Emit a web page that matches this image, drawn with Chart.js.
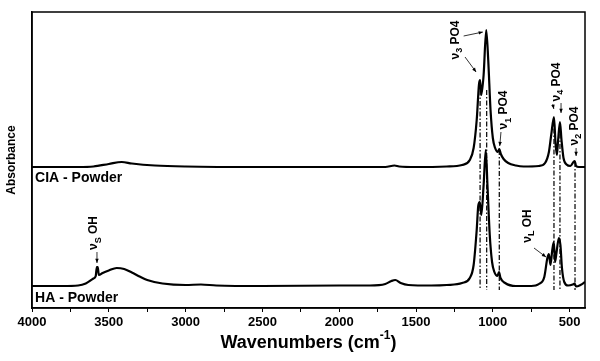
<!DOCTYPE html>
<html>
<head>
<meta charset="utf-8">
<script src="https://cdn.jsdelivr.net/npm/chart.js@4.4.0/dist/chart.umd.min.js"></script>
<style>
  body { margin: 0; background: #fff; }
  #grafico { display: block; }
</style>
</head>
<body>
<canvas id="grafico" width="600" height="361"></canvas>
<script>
const FONTE = '"Liberation Sans", Arial, sans-serif';

// espectro CIA - Powder (número de onda em cm-1, absorbância em unidades arbitrárias)
const ondaCIA = [4000, 3700, 3600, 3500, 3416, 3350, 3200, 3000, 2500, 2000, 1700, 1640, 1610, 1500, 1300,
    1200, 1150, 1125, 1105, 1090, 1083, 1075, 1060, 1043, 1030, 1015, 1000, 985, 968, 958, 948, 930, 900,
    850, 800, 700, 660, 635, 620, 602, 592, 583, 575, 563, 553, 540, 520, 495, 475, 467, 458, 440, 400];
const absCIA = [141, 141, 141.5, 144, 146, 144.5, 142.5, 141.5, 141, 141, 141, 142.5, 141.5, 141, 141.5,
    143, 148, 160, 188, 224, 228, 213, 233, 278, 248, 198, 170, 160, 156, 159, 154, 149, 145,
    142.5, 141.5, 142, 145, 156, 173, 191, 165, 153, 168, 186, 168, 150, 143.5, 142, 146, 147, 142, 141, 141];

// espectro HA - Powder
const ondaHA = [4000, 3800, 3700, 3650, 3600, 3585, 3578, 3572, 3565, 3540, 3500, 3449, 3400, 3350, 3300,
    3250, 3150, 3000, 2900, 2800, 2500, 2000, 1800, 1700, 1660, 1635, 1600, 1550, 1400, 1300, 1200, 1150,
    1125, 1105, 1095, 1085, 1075, 1060, 1046, 1035, 1020, 1005, 990, 970, 960, 950, 920, 850, 750, 700,
    665, 645, 635, 625, 613, 603, 595, 585, 570, 560, 550, 535, 510, 480, 468, 458, 430, 400];
const absHA = [22, 22, 22.5, 24.5, 29.5, 32, 41, 41, 33, 35, 37.5, 40, 39, 35.5, 31.5,
    28, 24.5, 23, 23.5, 22.5, 22, 22.5, 22.5, 24, 27, 28, 25, 23, 22.5, 23, 25, 30,
    43, 78, 102, 106, 93, 123, 158, 123, 73, 46, 36, 32, 36, 30, 25, 22, 22, 24,
    31, 50, 54, 43, 58, 66, 46, 56, 70, 63, 40, 26, 22.5, 23.5, 24.5, 21.5, 23, 26];

// linhas traço-ponto nas bandas
const linhasPico = [1083, 1040, 958, 602, 563, 465];
const topoLinha = [228, 218, 158, 190, 185, 146];
const baseLinha = 18;

const ticksX = [4000, 3750, 3500, 3250, 3000, 2750, 2500, 2250, 2000, 1750, 1500, 1250, 1000, 750, 500];

// rótulos das bandas: [texto, subscrito?], posição em (cm-1, absorbância)
const rotulos = [
    { partes: [['ν', 0], ['3', 1], [' PO4', 0]], x: 1240, y: 268 },
    { partes: [['ν', 0], ['1', 1], [' PO4', 0]], x: 927, y: 198 },
    { partes: [['ν', 0], ['4', 1], [' PO4', 0]], x: 585, y: 226 },
    { partes: [['ν', 0], ['2', 1], [' PO4', 0]], x: 465, y: 182 },
    { partes: [['ν', 0], ['S', 1], [' OH', 0]], x: 3596, y: 75 },
    { partes: [['ν', 0], ['L', 1], [' OH', 0]], x: 771, y: 82 }
];

// setas: [x1, y1, x2, y2]
const setas = [
    [1190, 272, 1065, 276],
    [1181, 251, 1109, 236],
    [947, 176, 955, 162],
    [610, 204, 603, 199],
    [556, 205, 556, 195],
    [458, 160, 458, 152],
    [3577, 56, 3577, 45],
    [732, 60, 654, 51]
];

const nomesAmostras = [
    { texto: 'CIA - Powder', x: 3980, y: 130 },
    { texto: 'HA - Powder', x: 3980, y: 10 }
];

function pontos(xs, ys) {
    return xs.map((x, i) => ({ x: x, y: ys[i] }));
}

function fonte(tam) {
    return 'bold ' + tam + 'px ' + FONTE;
}

function desenharRotulo(ctx, partes, px, py) {
    ctx.save();
    ctx.translate(px, py);
    ctx.rotate(-Math.PI / 2);
    let largura = 0;
    partes.forEach(([t, sub]) => {
        ctx.font = fonte(sub ? 9 : 12);
        largura += ctx.measureText(t).width;
    });
    let x = -largura / 2;
    ctx.textAlign = 'left';
    ctx.textBaseline = 'middle';
    ctx.fillStyle = '#000';
    partes.forEach(([t, sub]) => {
        ctx.font = fonte(sub ? 9 : 12);
        ctx.fillText(t, x, sub ? 4 : 0);
        x += ctx.measureText(t).width;
    });
    ctx.restore();
}

function desenharSeta(ctx, x1, y1, x2, y2) {
    const ang = Math.atan2(y2 - y1, x2 - x1);
    ctx.beginPath();
    ctx.moveTo(x1, y1);
    ctx.lineTo(x2, y2);
    ctx.stroke();
    ctx.beginPath();
    ctx.moveTo(x2, y2);
    ctx.lineTo(x2 - 4.5 * Math.cos(ang - 0.4), y2 - 4.5 * Math.sin(ang - 0.4));
    ctx.lineTo(x2 - 4.5 * Math.cos(ang + 0.4), y2 - 4.5 * Math.sin(ang + 0.4));
    ctx.closePath();
    ctx.fill();
}

// moldura, rótulos, setas e título do eixo x
const anotacoes = {
    id: 'anotacoes',
    afterDraw(chart) {
        const ctx = chart.ctx;
        const sx = chart.scales.x;
        const sy = chart.scales.y;
        const area = chart.chartArea;

        ctx.save();
        ctx.strokeStyle = '#000';
        ctx.lineWidth = 1.5;
        ctx.strokeRect(area.left, area.top, area.right - area.left, area.bottom - area.top);

        ctx.fillStyle = '#000';
        ctx.lineWidth = 0.8;
        setas.forEach(s => {
            desenharSeta(ctx, sx.getPixelForValue(s[0]), sy.getPixelForValue(s[1]),
                sx.getPixelForValue(s[2]), sy.getPixelForValue(s[3]));
        });

        rotulos.forEach(r => {
            desenharRotulo(ctx, r.partes, sx.getPixelForValue(r.x), sy.getPixelForValue(r.y));
        });

        ctx.font = fonte(14);
        ctx.textAlign = 'left';
        ctx.textBaseline = 'middle';
        nomesAmostras.forEach(n => {
            ctx.fillText(n.texto, sx.getPixelForValue(n.x), sy.getPixelForValue(n.y));
        });

        // título do eixo x com sobrescrito
        const t1 = 'Wavenumbers (cm';
        const t2 = '-1';
        const t3 = ')';
        ctx.font = fonte(18);
        const w1 = ctx.measureText(t1).width;
        const w3 = ctx.measureText(t3).width;
        ctx.font = fonte(12);
        const w2 = ctx.measureText(t2).width;
        let x = (area.left + area.right) / 2 - (w1 + w2 + w3) / 2;
        const y = 343;
        ctx.font = fonte(18);
        ctx.fillText(t1, x, y);
        x += w1;
        ctx.font = fonte(12);
        ctx.fillText(t2, x, y - 7);
        x += w2;
        ctx.font = fonte(18);
        ctx.fillText(t3, x, y);
        ctx.restore();
    }
};

const datasetsLinhas = linhasPico.map((onda, i) => ({
    data: [{ x: onda, y: topoLinha[i] }, { x: onda, y: baseLinha }],
    borderColor: '#000',
    borderWidth: 1.2,
    borderDash: [5, 2, 1.5, 2],
    pointRadius: 0,
    fill: false
}));

const graficoEl = document.getElementById('grafico');

const grafico = new Chart(graficoEl, {
    type: 'line',
    data: {
        datasets: [
            {
                label: 'CIA - Powder',
                data: pontos(ondaCIA, absCIA),
                borderColor: '#000',
                borderWidth: 2.2,
                pointRadius: 0,
                cubicInterpolationMode: 'monotone',
                fill: false
            },
            {
                label: 'HA - Powder',
                data: pontos(ondaHA, absHA),
                borderColor: '#000',
                borderWidth: 2.2,
                pointRadius: 0,
                cubicInterpolationMode: 'monotone',
                fill: false
            },
            ...datasetsLinhas
        ]
    },
    options: {
        responsive: false,
        animation: false,
        devicePixelRatio: 1,
        layout: { padding: { top: 12, right: 15, left: 0, bottom: 0 } },
        plugins: {
            legend: { display: false },
            tooltip: { enabled: false }
        },
        scales: {
            x: {
                type: 'linear',
                reverse: true,
                min: 400,
                max: 4000,
                afterBuildTicks: s => { s.ticks = ticksX.map(v => ({ value: v })); },
                afterFit: s => { s.height = 53; },
                ticks: {
                    autoSkip: false,
                    maxRotation: 0,
                    padding: 3,
                    color: '#000',
                    font: { family: FONTE, size: 13, weight: 'bold' },
                    callback: v => (v % 500 === 0 ? v : '')
                },
                grid: { drawOnChartArea: false, tickLength: 4, color: '#000', lineWidth: 1 },
                border: { display: true, color: '#000', width: 1.5 }
            },
            y: {
                min: 0,
                max: 296,
                afterFit: s => { s.width = 32; },
                ticks: { display: false },
                grid: { display: false },
                border: { display: true, color: '#000', width: 1.5 },
                title: {
                    display: true,
                    text: 'Absorbance',
                    color: '#000',
                    font: { family: FONTE, size: 12, weight: 'bold' },
                    padding: { top: 4, bottom: 0 }
                }
            }
        }
    },
    plugins: [anotacoes]
});
</script>
</body>
</html>
